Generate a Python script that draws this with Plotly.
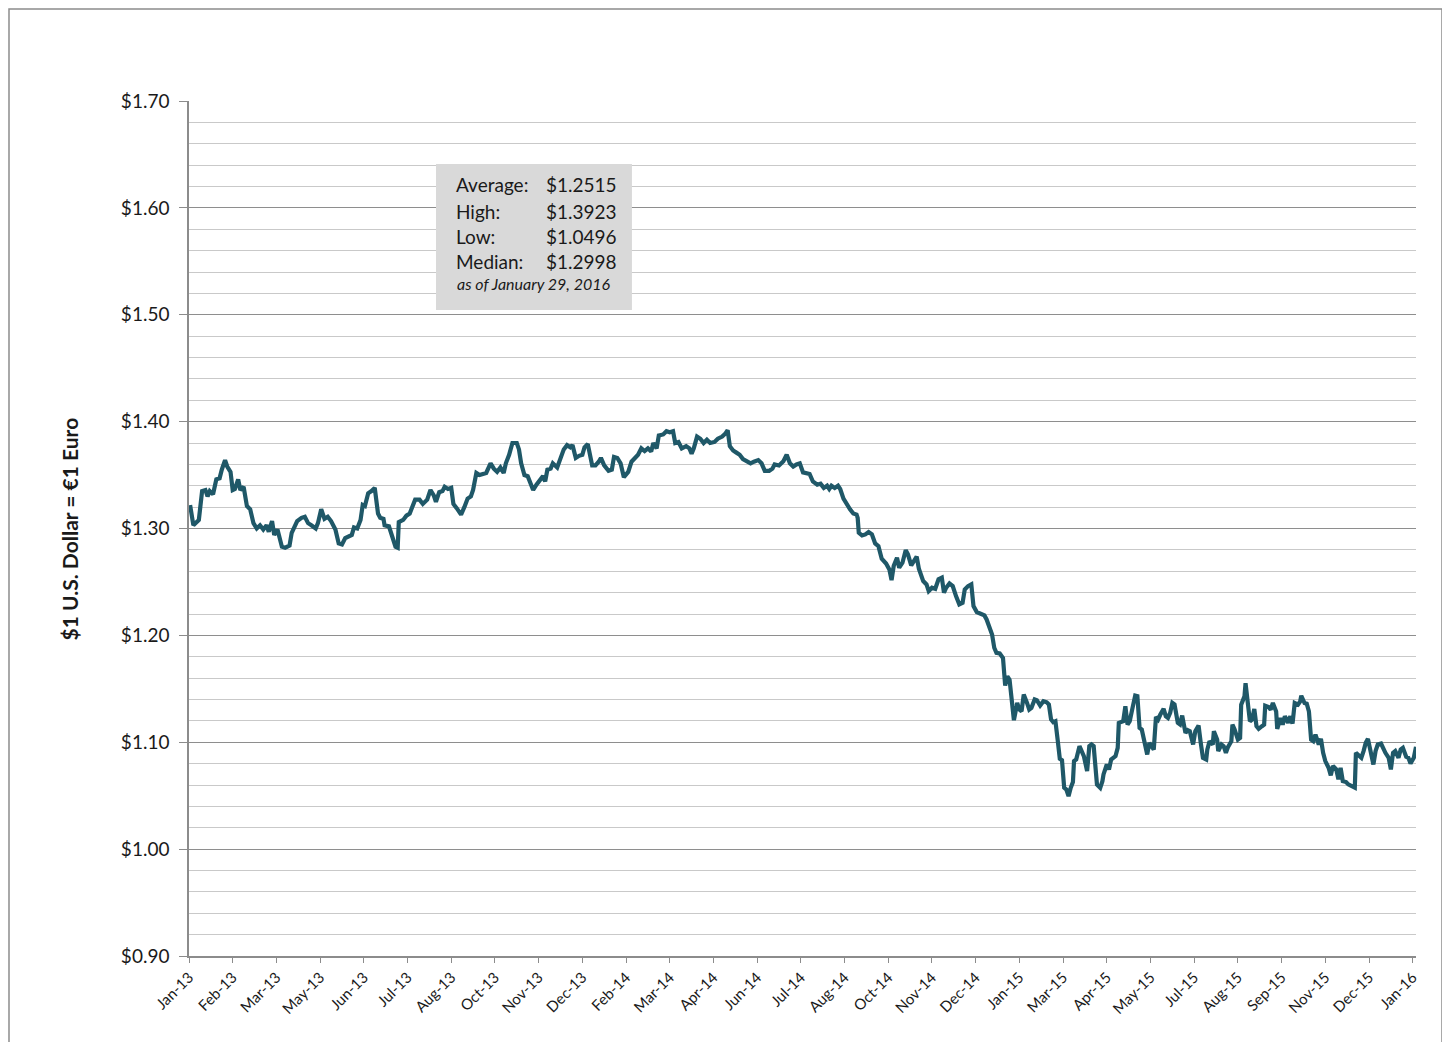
import pandas as pd
import plotly.graph_objects as go

# ---- data ----
start_date = "2013-01-01"
day_offset = [
    1, 4, 9, 12, 15, 17, 19, 22, 25, 28, 30, 33, 35, 38, 40, 42, 45, 47, 50, 53,
    56, 59, 62, 65, 68, 71, 73, 76, 78, 81, 85, 88, 92, 94, 99, 103, 106, 109, 112, 116,
    118, 121, 124, 127, 130, 134, 137, 140, 143, 146, 149, 151, 154, 157, 159, 161, 164, 167, 170, 173,
    175, 178, 179, 183, 186, 189, 191, 192, 196, 199, 202, 204, 207, 211, 214, 218, 221, 224, 226, 229,
    232, 234, 237, 240, 242, 245, 249, 252, 255, 258, 260, 263, 266, 269, 272, 276, 279, 282, 285, 288,
    290, 293, 296, 300, 302, 304, 307, 310, 312, 315, 318, 321, 324, 326, 328, 331, 333, 337, 340, 343,
    346, 349, 351, 354, 357, 360, 362, 365, 369, 372, 375, 377, 380, 384, 387, 389, 392, 395, 398, 402,
    405, 408, 411, 414, 417, 420, 423, 425, 428, 430, 434, 437, 440, 443, 445, 448, 451, 455, 458, 460,
    462, 465, 468, 471, 474, 477, 481, 484, 488, 491, 493, 495, 498, 501, 504, 507, 511, 514, 517, 521,
    524, 527, 531, 534, 536, 540, 544, 547, 550, 553, 556, 559, 562, 565, 568, 571, 575, 578, 581, 584,
    586, 588, 591, 594, 596, 599, 602, 605, 608, 611, 612, 613, 616, 619, 622, 625, 628, 631, 634, 638,
    641, 643, 645, 648, 650, 653, 656, 658, 661, 664, 666, 668, 672, 675, 677, 680, 683, 686, 689, 691,
    693, 696, 699, 702, 705, 708, 710, 713, 716, 718, 721, 724, 728, 730, 732, 735, 737, 739, 742, 745,
    747, 749, 751, 754, 755, 758, 760, 762, 764, 767, 769, 771, 774, 776, 779, 782, 785, 787, 789, 791,
    793, 795, 797, 799, 801, 803, 805, 807, 809, 810, 812, 815, 817, 819, 822, 824, 826, 828, 831, 834,
    836, 837, 840, 842, 844, 848, 850, 851, 855, 857, 859, 861, 864, 866, 868, 870, 872, 874, 877, 879,
    881, 883, 885, 887, 889, 892, 894, 896, 898, 900, 902, 905, 907, 909, 912, 914, 916, 919, 921, 924,
    926, 928, 931, 932, 934, 937, 938, 941, 942, 945, 947, 949, 951, 954, 955, 957, 960, 962, 963, 966,
    967, 969, 971, 973, 975, 977, 979, 982, 984, 985, 988, 990, 992, 995, 996, 999, 1001, 1003, 1006, 1008,
    1010, 1012, 1015, 1017, 1018, 1021, 1023, 1025, 1027, 1029, 1031, 1034, 1036, 1038, 1040, 1043, 1045, 1047, 1050, 1052,
    1054, 1056, 1059, 1061, 1064, 1067, 1068, 1070, 1073, 1075, 1077, 1079, 1082, 1084, 1086, 1088, 1091, 1093, 1095, 1098,
    1100, 1102, 1104, 1107, 1109, 1111, 1114, 1116, 1118, 1121, 1123,
]
usd_per_eur = [
    1.322, 1.303, 1.308, 1.335, 1.336, 1.330, 1.335, 1.332, 1.346, 1.347, 1.355, 1.364, 1.358, 1.353, 1.336, 1.337, 1.346, 1.336, 1.339, 1.321,
    1.318, 1.305, 1.300, 1.303, 1.299, 1.303, 1.297, 1.307, 1.294, 1.299, 1.283, 1.282, 1.284, 1.296, 1.307, 1.310, 1.311, 1.305, 1.303, 1.300,
    1.305, 1.318, 1.309, 1.311, 1.307, 1.299, 1.286, 1.285, 1.291, 1.292, 1.294, 1.301, 1.300, 1.308, 1.322, 1.321, 1.333, 1.335, 1.338, 1.314,
    1.310, 1.309, 1.303, 1.302, 1.292, 1.283, 1.282, 1.306, 1.308, 1.312, 1.314, 1.320, 1.327, 1.327, 1.323, 1.327, 1.336, 1.331, 1.325, 1.334,
    1.335, 1.339, 1.337, 1.338, 1.323, 1.319, 1.313, 1.320, 1.328, 1.330, 1.336, 1.352, 1.350, 1.351, 1.352, 1.361, 1.356, 1.353, 1.357, 1.352,
    1.361, 1.369, 1.380, 1.380, 1.374, 1.361, 1.350, 1.349, 1.343, 1.336, 1.341, 1.345, 1.349, 1.344, 1.355, 1.356, 1.361, 1.357, 1.367, 1.374,
    1.378, 1.376, 1.378, 1.366, 1.368, 1.369, 1.376, 1.379, 1.359, 1.359, 1.3625, 1.366, 1.359, 1.354, 1.355, 1.367, 1.366, 1.361, 1.348, 1.353,
    1.3625, 1.366, 1.369, 1.375, 1.3725, 1.375, 1.372, 1.380, 1.375, 1.387, 1.388, 1.391, 1.390, 1.391, 1.380, 1.381, 1.375, 1.377, 1.375, 1.370,
    1.375, 1.386, 1.384, 1.380, 1.383, 1.380, 1.381, 1.384, 1.386, 1.389, 1.392, 1.377, 1.373, 1.371, 1.369, 1.365, 1.363, 1.361, 1.3625, 1.364,
    1.361, 1.354, 1.354, 1.356, 1.360, 1.359, 1.363, 1.369, 1.361, 1.358, 1.360, 1.361, 1.3525, 1.352, 1.351, 1.344, 1.341, 1.342, 1.338, 1.340,
    1.337, 1.340, 1.338, 1.340, 1.337, 1.328, 1.3225, 1.318, 1.314, 1.313, 1.310, 1.296, 1.2935, 1.2945, 1.2967, 1.2945, 1.286, 1.2835, 1.2717, 1.2673,
    1.2617, 1.2517, 1.265, 1.2727, 1.2633, 1.268, 1.2798, 1.2758, 1.2655, 1.2711, 1.2736, 1.2624, 1.2508, 1.2477, 1.2414, 1.2446, 1.2436, 1.2524, 1.2539, 1.2399,
    1.2446, 1.2486, 1.2461, 1.2368, 1.229, 1.2305, 1.243, 1.2461, 1.2477, 1.2274, 1.2218, 1.2205, 1.2187, 1.2149, 1.2087, 1.2009, 1.1884, 1.1837, 1.1831, 1.1789,
    1.153, 1.1617, 1.1586, 1.1337, 1.1206, 1.1368, 1.1306, 1.129, 1.1446, 1.1368, 1.1306, 1.1322, 1.14, 1.1393, 1.1343, 1.1384, 1.1374, 1.1353, 1.1213, 1.1188,
    1.1197, 1.1026, 1.0845, 1.0832, 1.0574, 1.0558, 1.0496, 1.0574, 1.0627, 1.0823, 1.0839, 1.0963, 1.0917, 1.087, 1.073, 1.0963, 1.0979, 1.0963, 1.0605, 1.0574,
    1.0636, 1.0699, 1.0792, 1.0745, 1.0839, 1.087, 1.0948, 1.1181, 1.1197, 1.1337, 1.1166, 1.1197, 1.1343, 1.1437, 1.1431, 1.1135, 1.1119, 1.1026, 1.0886, 1.0994,
    1.0963, 1.0932, 1.1237, 1.1212, 1.1259, 1.1312, 1.1244, 1.1228, 1.1275, 1.1368, 1.1353, 1.1181, 1.1166, 1.125, 1.1088, 1.1113, 1.1104, 1.0979, 1.1104, 1.1156,
    1.0994, 1.0854, 1.0839, 1.0932, 1.101, 1.0979, 1.1103, 1.1025, 1.0917, 1.0979, 1.0963, 1.0901, 1.0957, 1.101, 1.1165, 1.1119, 1.1025, 1.1041, 1.1352, 1.1429,
    1.1553, 1.1398, 1.1196, 1.1212, 1.1311, 1.115, 1.1125, 1.115, 1.1165, 1.1342, 1.133, 1.1305, 1.1367, 1.1289, 1.1125, 1.1227, 1.1165, 1.1243, 1.1181, 1.1243,
    1.1174, 1.1367, 1.1352, 1.1383, 1.1435, 1.1367, 1.1361, 1.1289, 1.1025, 1.101, 1.1072, 1.0979, 1.1032, 1.0901, 1.0824, 1.0761, 1.069, 1.0777, 1.0746, 1.0653,
    1.0761, 1.0637, 1.0628, 1.0606, 1.0591, 1.0575, 1.0901, 1.0886, 1.0855, 1.0917, 1.0994, 1.1032, 1.0901, 1.0792, 1.0917, 1.0979, 1.0988, 1.0932, 1.0901, 1.0855,
    1.0746, 1.0901, 1.0917, 1.0855, 1.0932, 1.0948, 1.0864, 1.0855, 1.0802, 1.0855, 1.0957,
]
tick_labels = [
    "Jan-13", "Feb-13", "Mar-13", "May-13", "Jun-13", "Jul-13", "Aug-13", "Oct-13", "Nov-13", "Dec-13",
    "Feb-14", "Mar-14", "Apr-14", "Jun-14", "Jul-14", "Aug-14", "Oct-14", "Nov-14", "Dec-14", "Jan-15",
    "Mar-15", "Apr-15", "May-15", "Jul-15", "Aug-15", "Sep-15", "Nov-15", "Dec-15", "Jan-16",
]
tick_step_days = 40
stat_labels = ["Average:", "High:", "Low:", "Median:"]
stat_values = ["$1.2515", "$1.3923", "$1.0496", "$1.2998"]
stat_note = "as of January 29, 2016"
y_title = "$1 U.S. Dollar = €1 Euro"

# ---- build ----
base = pd.Timestamp(start_date)
dates = base + pd.to_timedelta(day_offset, unit="D")
tick_dates = [base + pd.Timedelta(days=tick_step_days * i) for i in range(len(tick_labels))]

FONT = "Lato, 'Open Sans', sans-serif"
TXT = "#1a1a1a"

fig = go.Figure()
fig.add_trace(go.Scatter(
    x=dates, y=usd_per_eur, mode="lines",
    line=dict(color="#1f5868", width=4.2),
    hoverinfo="x+y", showlegend=False,
))

fig.update_layout(
    width=1450, height=1042,
    margin=dict(l=181, r=42, t=93, b=94, autoexpand=False),
    paper_bgcolor="white", plot_bgcolor="white",
    font=dict(family=FONT, color=TXT),
    xaxis=dict(
        type="date",
        range=[base, pd.Timestamp("2016-01-29")],
        tickmode="array", tickvals=tick_dates, ticktext=tick_labels,
        tickangle=-45, tickfont=dict(size=15, color=TXT),
        ticks="outside", ticklen=5, tickcolor="#8c8c8c", tickwidth=1,
        showline=True, linecolor="#8c8c8c", linewidth=1.5,
        showgrid=False, zeroline=False,
    ),
    yaxis=dict(
        range=[0.9, 1.7], tick0=0.9, dtick=0.1,
        tickprefix="$", tickformat=".2f",
        tickfont=dict(size=19, color=TXT),
        ticks="outside", ticklen=8, tickcolor="#8c8c8c", tickwidth=1,
        ticklabelstandoff=6,
        showline=True, linecolor="#8c8c8c", linewidth=1.5,
        showgrid=True, gridcolor="#8e8e8e", gridwidth=1,
        minor=dict(dtick=0.02, tick0=0.9, showgrid=True, gridcolor="#c9c9c9", gridwidth=1, ticks=""),
        zeroline=False,
    ),
)

# outer chart border
fig.add_shape(type="rect", xref="paper", yref="paper",
              x0=-0.1467, x1=1.0212, y0=-0.2, y1=1.1076,
              line=dict(color="#8c8c8c", width=1.5), fillcolor="rgba(0,0,0,0)", layer="below")

# stats box
fig.add_shape(type="rect", xref="paper", yref="paper",
              x0=0.2013, x1=0.3610, y0=0.7556, y1=0.9263,
              line=dict(width=0), fillcolor="#d9d9d9", layer="above")

row_y = [0.9018, 0.8713, 0.8421, 0.8117]
for lab, val, yy in zip(stat_labels, stat_values, row_y):
    fig.add_annotation(xref="paper", yref="paper", x=0.2160, y=yy, text=lab,
                       showarrow=False, xanchor="left", yanchor="middle",
                       font=dict(size=19, color=TXT, family=FONT))
    fig.add_annotation(xref="paper", yref="paper", x=0.2893, y=yy, text=val,
                       showarrow=False, xanchor="left", yanchor="middle",
                       font=dict(size=19, color=TXT, family=FONT))
fig.add_annotation(xref="paper", yref="paper", x=0.2810, y=0.7865, text="<i>" + stat_note + "</i>",
                   showarrow=False, xanchor="center", yanchor="middle",
                   font=dict(size=16, color=TXT, family=FONT))

# y-axis title
fig.add_annotation(xref="paper", yref="paper", x=-0.097, y=0.5, text="<b>" + y_title + "</b>",
                   showarrow=False, textangle=-90, xanchor="center", yanchor="middle",
                   font=dict(size=21, color=TXT, family=FONT))

fig.write_html("out.html")
